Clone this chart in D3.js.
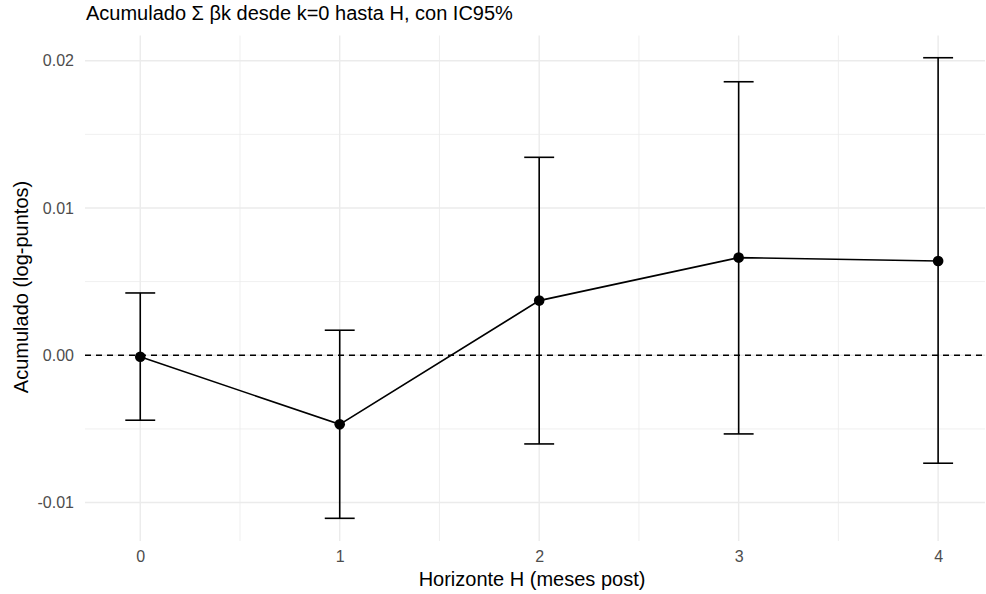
<!DOCTYPE html>
<html><head><meta charset="utf-8">
<script src="https://cdn.jsdelivr.net/npm/d3@7"></script>
<style>body{margin:0;background:#fff}svg{display:block}text{font-family:"Liberation Sans",Arial,sans-serif}</style>
</head><body><svg id="c" width="986" height="594"></svg>
<script>
const horizons = [0, 1, 2, 3, 4];
const estimate = [-0.0001, -0.00469, 0.00371, 0.00663, 0.0064];
const lower = [-0.00441, -0.01107, -0.00602, -0.00534, -0.00733];
const upper = [0.00423, 0.0017, 0.01344, 0.01857, 0.0202];
const xTicks = [0, 1, 2, 3, 4];
const xMinor = [0.5, 1.5, 2.5, 3.5];
const yTicks = [-0.01, 0, 0.01, 0.02];
const yMinor = [-0.005, 0.005, 0.015];
const yTickLabels = ["-0.01", "0.00", "0.01", "0.02"];

const svg = d3.select("#c");
const L = 85, R = 985, T = 35.5, B = 541;
const x = d3.scaleLinear().domain([-0.277, 4.235]).range([L, R]);
const y = d3.scaleLinear().domain([-0.01261, 0.02171]).range([B, T]);

const g = svg.append("g");
// grid
g.selectAll(".ymin").data(yMinor).join("line").attr("x1", L).attr("x2", R)
  .attr("y1", d => y(d)).attr("y2", d => y(d)).attr("stroke", "#ebebeb").attr("stroke-width", 0.8);
g.selectAll(".xmin").data(xMinor).join("line").attr("y1", T).attr("y2", B)
  .attr("x1", d => x(d)).attr("x2", d => x(d)).attr("stroke", "#ebebeb").attr("stroke-width", 0.8);
g.selectAll(".ymaj").data(yTicks).join("line").attr("x1", L).attr("x2", R)
  .attr("y1", d => y(d)).attr("y2", d => y(d)).attr("stroke", "#ebebeb").attr("stroke-width", 1.4);
g.selectAll(".xmaj").data(xTicks).join("line").attr("y1", T).attr("y2", B)
  .attr("x1", d => x(d)).attr("x2", d => x(d)).attr("stroke", "#ebebeb").attr("stroke-width", 1.4);

// axes labels via d3 axes
const ax = d3.axisBottom(x).tickValues(xTicks).tickSize(0).tickPadding(10).tickFormat(d3.format("d"));
const axg = svg.append("g").attr("transform", `translate(0,${B})`).call(ax);
axg.select(".domain").remove();
axg.selectAll("text").attr("fill", "#4d4d4d").style("font-size", "16px");
const ay = d3.axisLeft(y).tickValues(yTicks).tickSize(0).tickPadding(11).tickFormat((d, i) => yTickLabels[i]);
const ayg = svg.append("g").attr("transform", `translate(${L},0)`).call(ay);
ayg.select(".domain").remove();
ayg.selectAll("text").attr("fill", "#4d4d4d").style("font-size", "16px");

// zero dashed line
g.append("line").attr("x1", L).attr("x2", R).attr("y1", y(0)).attr("y2", y(0))
  .attr("stroke", "#000").attr("stroke-width", 1.6).attr("stroke-dasharray", "6,5");

const data = horizons.map((h, i) => ({h, e: estimate[i], lo: lower[i], hi: upper[i]}));
const hw = 0.075;
const eb = g.selectAll(".eb").data(data).join("g");
eb.append("line").attr("x1", d => x(d.h)).attr("x2", d => x(d.h)).attr("y1", d => y(d.lo)).attr("y2", d => y(d.hi))
  .attr("stroke", "#000").attr("stroke-width", 1.6);
eb.append("line").attr("x1", d => x(d.h - hw)).attr("x2", d => x(d.h + hw)).attr("y1", d => y(d.lo)).attr("y2", d => y(d.lo))
  .attr("stroke", "#000").attr("stroke-width", 1.6);
eb.append("line").attr("x1", d => x(d.h - hw)).attr("x2", d => x(d.h + hw)).attr("y1", d => y(d.hi)).attr("y2", d => y(d.hi))
  .attr("stroke", "#000").attr("stroke-width", 1.6);

g.append("path").datum(data).attr("fill", "none").attr("stroke", "#000").attr("stroke-width", 1.6)
  .attr("d", d3.line().x(d => x(d.h)).y(d => y(d.e)));
g.selectAll(".pt").data(data).join("circle").attr("cx", d => x(d.h)).attr("cy", d => y(d.e)).attr("r", 5.3).attr("fill", "#000");

// titles
svg.append("text").attr("x", 86).attr("y", 20).style("font-size", "20px").attr("fill", "#000")
  .text("Acumulado Σ βk desde k=0 hasta H, con IC95%");
svg.append("text").attr("x", 532).attr("y", 586).attr("text-anchor", "middle").style("font-size", "20px").attr("fill", "#000")
  .text("Horizonte H (meses post)");
svg.append("text").attr("transform", `translate(28,287) rotate(-90)`).attr("text-anchor", "middle")
  .style("font-size", "20px").attr("fill", "#000").text("Acumulado (log-puntos)");
</script></body></html>
